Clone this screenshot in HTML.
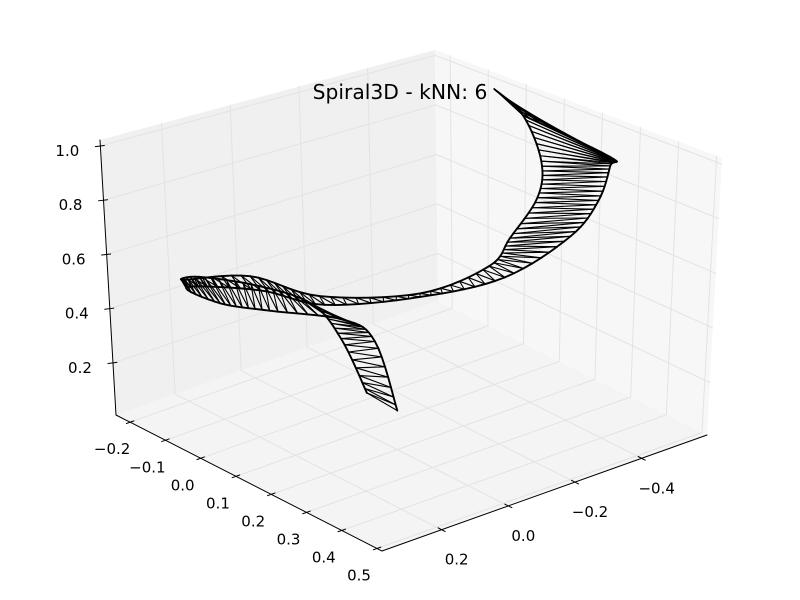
<!DOCTYPE html>
<html><head><meta charset="utf-8"><style>
html,body{margin:0;padding:0;background:#fff;}
svg{display:block;font-family:"DejaVu Sans","Liberation Sans",sans-serif;}
</style></head><body>
<svg id="chart" width="800" height="600" viewBox="0 0 800 600" xmlns="http://www.w3.org/2000/svg">
<rect x="0" y="0" width="800" height="600" fill="#ffffff"/>
<g id="panes"></g>
<g id="grid"></g>
<g id="axes"></g>
<g id="ticks"></g>
<g id="labels" font-size="15" fill="#000"></g>
<g id="mesh"></g>
<text x="400" y="99" text-anchor="middle" font-size="20.3" fill="#000">Spiral3D - kNN: 6</text>
</svg>
<script>
// ---- axis data ----
const xTicks = [-0.2, -0.1, 0.0, 0.1, 0.2, 0.3, 0.4, 0.5];
const xTickLabels = ["\u22120.2", "\u22120.1", "0.0", "0.1", "0.2", "0.3", "0.4", "0.5"];
const yTicks = [0.2, 0.0, -0.2, -0.4];
const yTickLabels = ["0.2", "0.0", "\u22120.2", "\u22120.4"];
const zTicks = [0.2, 0.4, 0.6, 0.8, 1.0];
const zTickLabels = ["0.2", "0.4", "0.6", "0.8", "1.0"];
const xLimits = [-0.240, 0.514];
const yLimits = [-0.596, 0.379];
const zLimits = [0.008, 1.022];
// ---- spiral ribbon data (two edges sharing z) ----
const spiralZ  = [0.05, 0.2, 0.3, 0.38, 0.43, 0.45, 0.47, 0.5, 0.55, 0.6, 0.7, 0.8, 0.9, 1.0, 1.0];
const spiralAX = [0.016, -0.061, -0.1225, -0.171, -0.223, -0.210, -0.129, 0.050, 0.204, 0.232, 0.252, 0.231, 0.197, 0.098, -0.039];
const spiralAY = [-0.106, -0.113, -0.0935, 0.011, 0.130, 0.189, 0.079, 0.067, -0.064, -0.237, -0.275, -0.377, -0.424, -0.478, -0.546];
const spiralBX = [0.110, -0.012, -0.030, -0.071, -0.105, -0.180, -0.066, 0.088, 0.217, 0.291, 0.313, 0.310, 0.292, 0.362, 0.098];
const spiralBY = [-0.097, -0.162, -0.090, 0.086, 0.195, 0.211, 0.116, 0.092, -0.050, -0.219, -0.386, -0.469, -0.520, -0.440, -0.478];

const NS = "http://www.w3.org/2000/svg";
// projection: bilinear floor corners + bilinear vertical vectors (approximate perspective)
const FO=[382,551], FL=[116,415], FR=[707,435], FB=[438,301];
const ZO=[2,-301], ZL=[-16,-275], ZR=[15,-277], ZB=[-3,-251];
function bil(a,b,c,d,u,v,i){return a[i]*(1-u)*(1-v)+b[i]*u*(1-v)+c[i]*(1-u)*v+d[i]*u*v;}
function P(x,y,z){
  const u=(xLimits[1]-x)/(xLimits[1]-xLimits[0]);
  const v=(yLimits[1]-y)/(yLimits[1]-yLimits[0]);
  const w=(z-zLimits[0])/(zLimits[1]-zLimits[0]);
  return [bil(FO,FL,FR,FB,u,v,0)+w*bil(ZO,ZL,ZR,ZB,u,v,0),
          bil(FO,FL,FR,FB,u,v,1)+w*bil(ZO,ZL,ZR,ZB,u,v,1)];
}
function line(g,a,b,stroke,w,name){
  const l=document.createElementNS(NS,"line");
  
  
  l.setAttribute("x1",a[0].toFixed(2));l.setAttribute("y1",a[1].toFixed(2));
  l.setAttribute("x2",b[0].toFixed(2));l.setAttribute("y2",b[1].toFixed(2));
  l.setAttribute("stroke",stroke);l.setAttribute("stroke-width",w);
  l.setAttribute("stroke-linecap","round");
  g.appendChild(l);return l;
}
function poly(g,pts,fill,name){
  const p=document.createElementNS(NS,"polygon");
  
  
  p.setAttribute("points",pts.map(q=>q[0].toFixed(2)+","+q[1].toFixed(2)).join(" "));
  p.setAttribute("fill",fill);
  g.appendChild(p);
}
function text(g,pt,str,name){
  const t=document.createElementNS(NS,"text");
  
  
  t.setAttribute("x",pt[0].toFixed(2));t.setAttribute("y",pt[1].toFixed(2));
  t.setAttribute("text-anchor","middle");t.setAttribute("dominant-baseline","central");
  t.textContent=str;g.appendChild(t);
}
const [x0,x1]=xLimits,[y0,y1]=yLimits,[z0,z1]=zLimits;
const panes=document.getElementById("panes");
poly(panes,[P(x0,y1,z0),P(x0,y0,z0),P(x0,y0,z1),P(x0,y1,z1)],"#f0f0f0","left-pane");
poly(panes,[P(x0,y0,z0),P(x1,y0,z0),P(x1,y0,z1),P(x0,y0,z1)],"#f7f7f7","right-pane");
poly(panes,[P(x1,y1,z0),P(x0,y1,z0),P(x0,y0,z0),P(x1,y0,z0)],"#f4f4f4","floor-pane");

const grid=document.getElementById("grid"), gc="#e3e3e3";
yTicks.forEach(y=>{line(grid,P(x0,y,z0),P(x0,y,z1),gc,1,"grid-y-left-pane");line(grid,P(x0,y,z0),P(x1,y,z0),gc,1,"grid-y-floor");});
xTicks.forEach(x=>{line(grid,P(x,y0,z0),P(x,y0,z1),gc,1,"grid-x-right-pane");line(grid,P(x,y1,z0),P(x,y0,z0),gc,1,"grid-x-floor");});
zTicks.forEach(z=>{line(grid,P(x0,y1,z),P(x0,y0,z),gc,1,"grid-z-left-pane");line(grid,P(x0,y0,z),P(x1,y0,z),gc,1,"grid-z-right-pane");});

const axes=document.getElementById("axes");
line(axes,P(x0,y1,z0),P(x1,y1,z0),"#000",1,"x-axis-line");
line(axes,P(x1,y1,z0),P(x1,y0,z0),"#000",1,"y-axis-line");
line(axes,P(x0,y1,z0),P(x0,y1,z1),"#000",1,"z-axis-line");

const ticks=document.getElementById("ticks"), labels=document.getElementById("labels");
function unit(a,b){const dx=b[0]-a[0],dy=b[1]-a[1],n=Math.hypot(dx,dy);return [dx/n,dy/n];}
const dy=unit(P(x0,y1,z0),P(x0,y0,z0));
xTicks.forEach((x,i)=>{const p=P(x,y1,z0);
  line(ticks,[p[0]-dy[0]*4,p[1]-dy[1]*4],[p[0]+dy[0]*4,p[1]+dy[1]*4],"#000",1,"x-tick");
  text(labels,[p[0]-18,p[1]+27],xTickLabels[i],"x-tick-label");});
const dxu=unit(P(x1,y1,z0),P(x0,y1,z0));
yTicks.forEach((y,i)=>{const p=P(x1,y,z0);
  line(ticks,[p[0]-dxu[0]*4,p[1]-dxu[1]*4],[p[0]+dxu[0]*4,p[1]+dxu[1]*4],"#000",1,"y-tick");
  text(labels,[p[0]+15,p[1]+30],yTickLabels[i],"y-tick-label");});
zTicks.forEach((z,i)=>{const p=P(x0,y1,z);
  line(ticks,[p[0]-5,p[1]+0.6],[p[0]+4,p[1]-0.5],"#000",1,"z-tick");
  text(labels,[p[0]-33,p[1]+5],zTickLabels[i],"z-tick-label");});

// ---- spiral mesh ----
function cr(arr,i,t){const n=arr.length;const p0=arr[Math.max(i-1,0)],p1=arr[i],p2=arr[Math.min(i+1,n-1)],p3=arr[Math.min(i+2,n-1)];
  const t2=t*t,t3=t2*t;return 0.5*((2*p1)+(-p0+p2)*t+(2*p0-5*p1+4*p2-p3)*t2+(-p0+3*p1-3*p2+p3)*t3);}
const SUB=8, A=[], B=[];
for(let i=0;i<spiralZ.length-1;i++){
  for(let s=0;s<SUB;s++){const t=s/SUB;const z=cr(spiralZ,i,t);
    A.push(P(cr(spiralAX,i,t),cr(spiralAY,i,t),z));
    B.push(P(cr(spiralBX,i,t),cr(spiralBY,i,t),z));}
}
{const k=spiralZ.length-1;A.push(P(spiralAX[k],spiralAY[k],spiralZ[k]));B.push(P(spiralBX[k],spiralBY[k],spiralZ[k]));}
const mesh=document.getElementById("mesh");
for(let k=0;k<A.length;k++){
  line(mesh,A[k],B[k],"#000",1.1,"mesh-rung");
  if(k<A.length-1){
    line(mesh,A[k],B[k+1],"#000",1.1,"mesh-diagonal");
    line(mesh,A[k],A[k+1],"#000",1.9,"mesh-edge-a");
    line(mesh,B[k],B[k+1],"#000",1.9,"mesh-edge-b");
  }
}
</script>
</body></html>
